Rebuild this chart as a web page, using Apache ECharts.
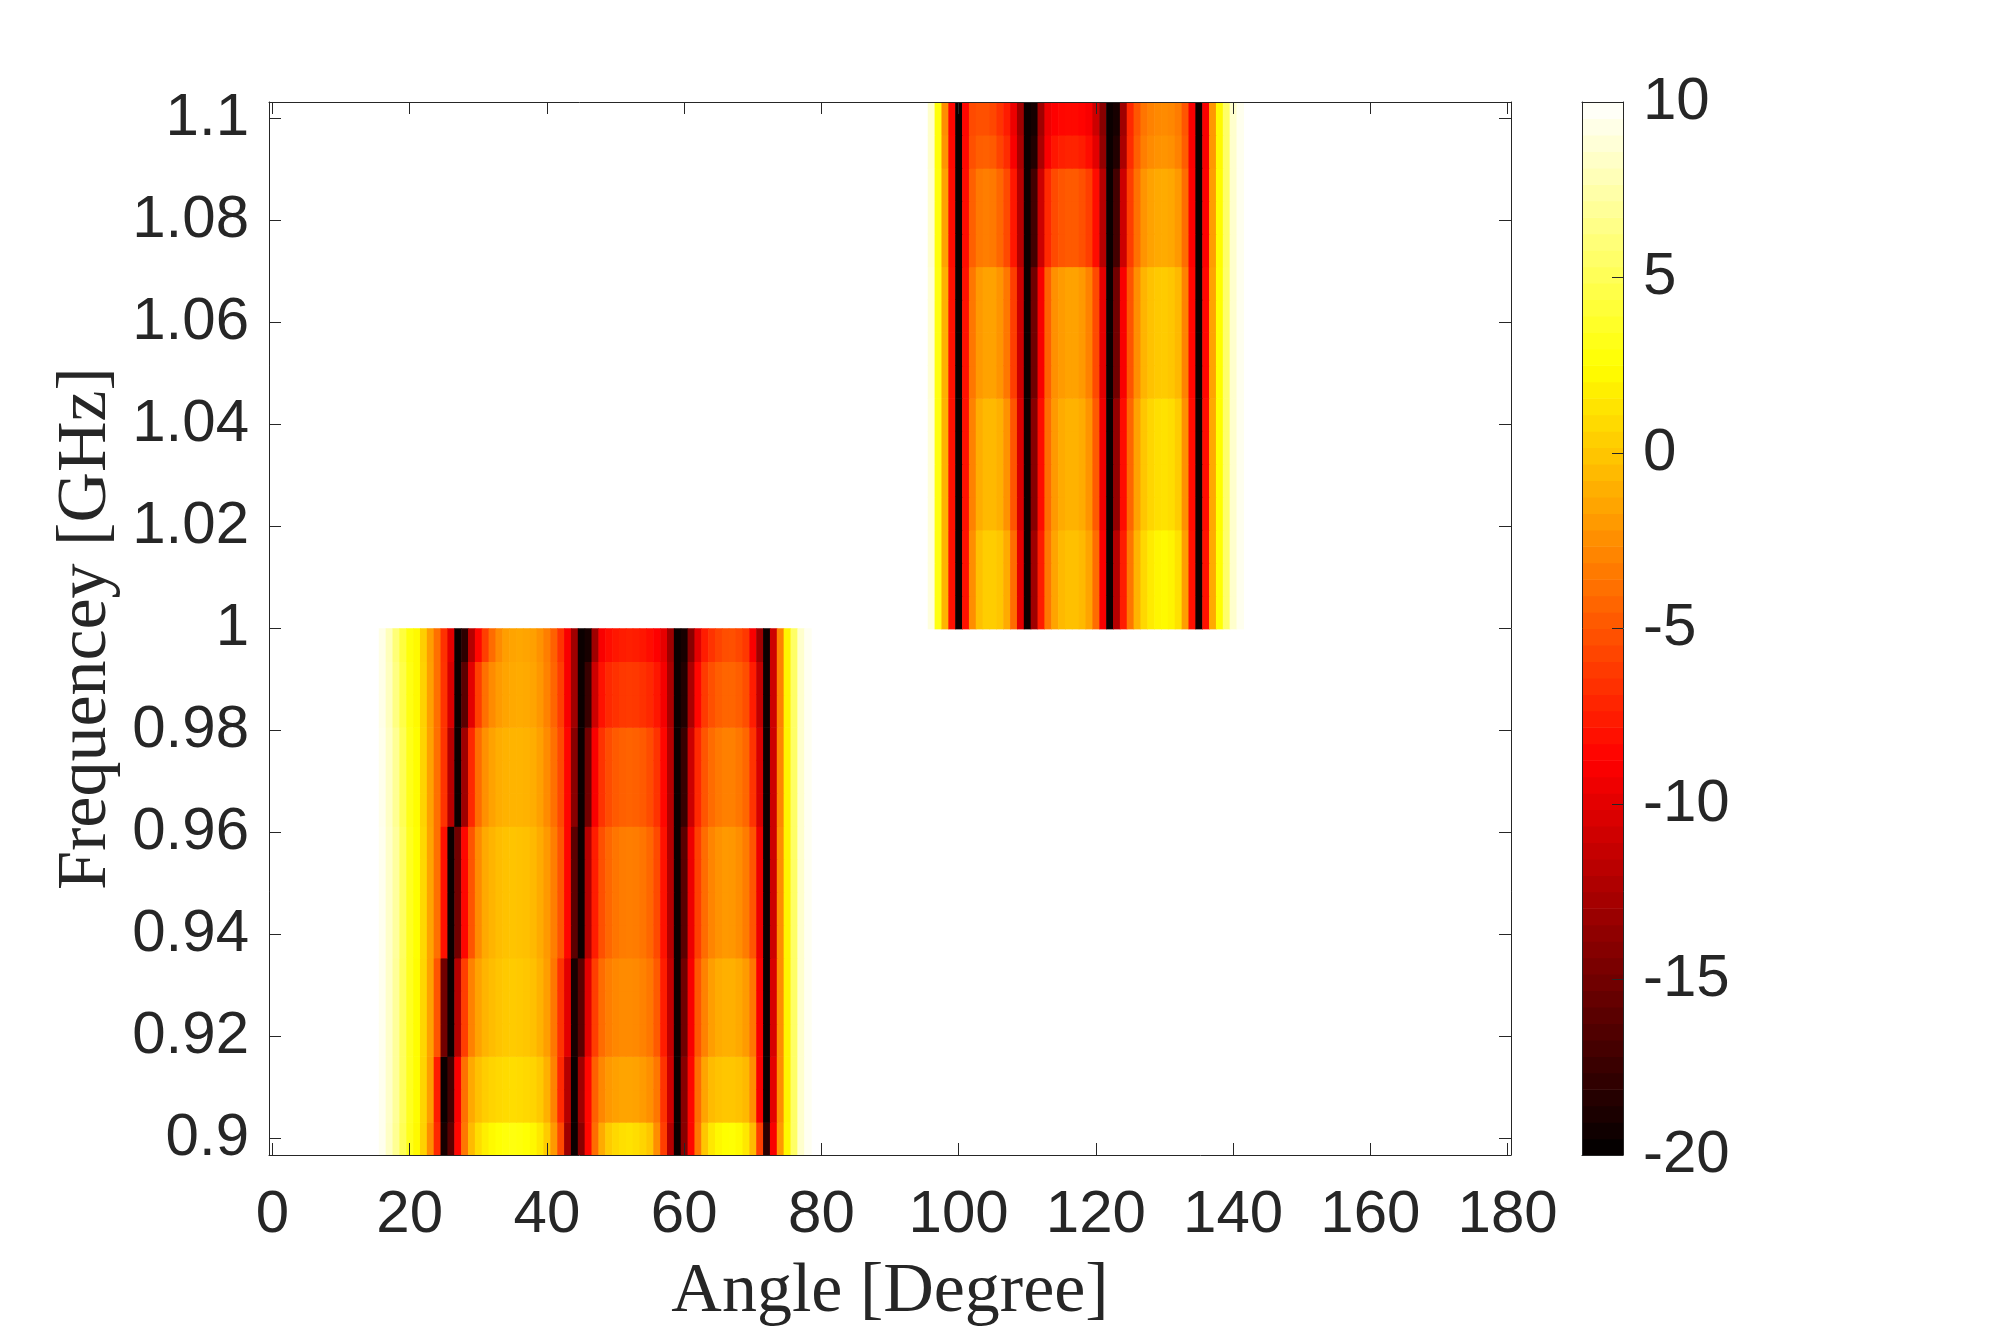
<!DOCTYPE html>
<html>
<head>
<meta charset="utf-8">
<script src="https://cdn.jsdelivr.net/npm/echarts@6/dist/echarts.min.js"></script>
<style>
  html, body { margin: 0; padding: 0; background: #fff; }
  #chart { width: 2000px; height: 1344px; }
</style>
</head>
<body>
<div id="chart"></div>
<script>
// frequency rows (GHz), 32 samples from 0.9 to 1.1
const freqs = [0.9000, 0.9065, 0.9129, 0.9194, 0.9258, 0.9323, 0.9387, 0.9452,
  0.9516, 0.9581, 0.9645, 0.9710, 0.9774, 0.9839, 0.9903, 0.9968,
  1.0032, 1.0097, 1.0161, 1.0226, 1.0290, 1.0355, 1.0419, 1.0484,
  1.0548, 1.0613, 1.0677, 1.0742, 1.0806, 1.0871, 1.0935, 1.1000];

const xTicks = [0, 20, 40, 60, 80, 100, 120, 140, 160, 180];
const yTicks = [0.9, 0.92, 0.94, 0.96, 0.98, 1, 1.02, 1.04, 1.06, 1.08, 1.1];
const cbMin = -20;
const cbMax = 10;

// lower block: angles 16..78, rows 0..15 (0.9 .. 0.9968 GHz)
const lowAngles = [16, 17, 18, 19, 20, 21, 22, 23, 24, 25, 26, 27, 28, 29, 30, 31, 32, 33, 34, 35,
  36, 37, 38, 39, 40, 41, 42, 43, 44, 45, 46, 47, 48, 49, 50, 51, 52, 53, 54, 55,
  56, 57, 58, 59, 60, 61, 62, 63, 64, 65, 66, 67, 68, 69, 70, 71, 72, 73, 74, 75,
  76, 77, 78];
const lowRowProfile = [0, 1, 1, 2, 2, 2, 3, 3, 3, 3, 4, 4, 4, 5, 5, 6];
const lowProfiles = [
  [9.5, 8.3, 6.8, 5.0, 3.3, 2.3, 0.5, -2.5, -7, -19,
   -16, -8.5, -3.5, -0.5, 1.0, 1.8, 2.3, 2.6, 2.8, 2.9,
   2.8, 2.6, 2.2, 1.5, 0.2, -2.0, -5.5, -13, -19.5, -14,
   -8.5, -4, -1.2, 0.2, 0.8, 1.1, 1.2, 1.0, 0.6, 0,
   -2.5, -6, -12, -19.5, -14, -8.5, -3.5, 0, 1.5, 2.2,
   2.5, 2.6, 2.3, 1.5, -0.5, -6, -18, -9, -2, 2.2,
   5.5, 8.5, 9.6],
  [9.5, 8.4, 7.0, 5.2, 3.4, 2.4, 0.6, -1.8, -7.5, -19.5,
   -17, -9, -3.8, -1.3, -0.3, 0.3, 0.6, 0.8, 0.9, 1.0,
   0.9, 0.8, 0.6, 0.1, -1.0, -3.0, -7, -12, -19.5, -13,
   -8.5, -4.5, -2.8, -2.0, -1.7, -1.5, -1.5, -1.6, -1.9, -2.4,
   -3.5, -6.5, -11, -19.5, -14, -8.5, -4, -1.5, -0.5, -0.2,
   0, 0, -0.2, -0.6, -2.5, -9, -19.5, -10, -2.5, 2.0,
   5.5, 8.5, 9.6],
  [9.5, 8.4, 7.0, 5.2, 3.4, 2.4, 0.7, -1.6, -5, -15,
   -19.5, -12, -6, -3, -1.6, -0.8, -0.4, -0.1, 0.1, 0.2,
   0.1, 0, -0.3, -0.9, -1.8, -3.5, -6.5, -10, -19, -16,
   -10, -6, -4, -3.2, -2.8, -2.6, -2.6, -2.7, -3.0, -3.5,
   -4.8, -7.5, -11.5, -19.5, -15, -9, -5, -3, -1.8, -1.2,
   -1.0, -1.0, -1.3, -1.9, -3.5, -9, -19.5, -10.5, -2.5, 2.0,
   5.5, 8.5, 9.6],
  [9.5, 8.4, 7.1, 5.3, 3.4, 2.5, 0.8, -1.5, -3.8, -8,
   -19.5, -15, -8.5, -5, -2.6, -1.3, -0.8, -0.4, -0.2, -0.1,
   -0.2, -0.3, -0.6, -1.2, -2.0, -3.2, -5, -8.5, -16, -19.5,
   -12, -7.5, -5.2, -4.2, -3.6, -3.3, -3.2, -3.3, -3.6, -4.2,
   -5.5, -8, -12, -19.5, -16, -9.5, -6, -4, -2.9, -2.3,
   -2.0, -2.1, -2.5, -3.3, -5, -9.5, -19.5, -11, -2.5, 2.0,
   5.5, 8.5, 9.6],
  [9.4, 8.3, 6.8, 5.0, 3.2, 2.4, 0.6, -1.6, -3.8, -6.5,
   -12, -19.5, -13, -7, -4, -2.4, -1.6, -1.1, -0.9, -0.8,
   -0.8, -0.9, -1.1, -1.7, -2.6, -3.8, -5.5, -8.5, -14, -19.5,
   -15, -9, -6.5, -5.4, -4.8, -4.5, -4.4, -4.5, -4.8, -5.4,
   -6.5, -8.5, -12, -19.5, -17.5, -11, -7, -5, -4.0, -3.4,
   -3.1, -3.1, -3.5, -4.2, -6.5, -10.5, -19.5, -11, -2.8, 2.0,
   5.5, 8.5, 9.6],
  [9.3, 8.1, 6.3, 4.6, 3.0, 2.3, 0.5, -1.7, -3.8, -6.5,
   -10.5, -19.5, -16, -10, -6, -3.8, -2.6, -1.9, -1.5, -1.3,
   -1.2, -1.3, -1.5, -2.1, -3.0, -4.3, -6, -9, -13, -19.5,
   -17.5, -11, -8, -7, -6.6, -6.3, -6.2, -6.3, -6.6, -7.0,
   -7.8, -9.2, -12.5, -19.5, -18.5, -12.5, -8.5, -6.2, -5.2, -4.6,
   -4.3, -4.3, -4.6, -5.3, -7.5, -11.5, -19.5, -11, -3, 2.0,
   5.5, 8.5, 9.6],
  [9.3, 8.0, 6.0, 4.3, 2.8, 2.3, 0.4, -1.8, -3.8, -6.6,
   -10, -19.5, -18, -12, -8.5, -6, -4, -2.6, -1.8, -1.5,
   -1.4, -1.5, -1.7, -2.3, -3.2, -4.5, -6.5, -9, -13, -19.5,
   -19, -13, -9, -8.2, -7.8, -7.5, -7.4, -7.5, -7.8, -8.2,
   -8.8, -9.8, -13, -19.5, -19, -14, -10, -7.5, -6.5, -5.8,
   -5.3, -5.2, -5.6, -6.3, -9, -13, -19.5, -11, -3, 2.0,
   5.5, 8.5, 9.6]
];

// upper block: angles 96..141, rows 16..31 (1.0032 .. 1.1 GHz)
const highAngles = [96, 97, 98, 99, 100, 101, 102, 103, 104, 105,
  106, 107, 108, 109, 110, 111, 112, 113, 114, 115,
  116, 117, 118, 119, 120, 121, 122, 123, 124, 125,
  126, 127, 128, 129, 130, 131, 132, 133, 134, 135,
  136, 137, 138, 139, 140, 141];
const highRowProfile = [0, 0, 0, 1, 1, 1, 1, 2, 2, 2, 2, 3, 3, 3, 4, 5];
const highProfiles = [
  [9.0, 3.0, -0.8, -8, -19.5, -8, -2.5, -0.3, 0.3, 0.3,
   0, -1.2, -4, -10, -19.5, -13, -7.5, -3.5, -1.5, -0.6,
   -0.3, -0.3, -0.6, -1.5, -4, -9, -19.5, -12, -7.5, -3.5,
   -0.8, 0.8, 1.6, 2.1, 2.3, 2.0, 1.2, -1.8, -8, -19.5,
   -8, -1.2, 2.6, 5.6, 8.5, 9.5],
  [8.9, 3.0, -0.9, -8, -19.5, -8, -3.0, -1.1, -0.6, -0.6,
   -1.0, -2.3, -5, -10.5, -19.5, -14, -8.2, -4, -2.0, -1.2,
   -0.9, -0.9, -1.2, -2.2, -4.8, -9.5, -19.5, -13.5, -8.2, -4.2,
   -1.6, 0, 0.7, 1.1, 1.2, 1.0, 0.3, -2.4, -8.2, -19.5,
   -8.2, -1.3, 2.5, 5.6, 8.5, 9.5],
  [8.8, 3.0, -1.0, -8, -19.5, -8, -3.5, -2.0, -1.6, -1.6,
   -2.2, -3.5, -6, -11, -19.5, -15, -9, -4.5, -2.4, -1.9,
   -1.6, -1.6, -2.0, -3.0, -5.5, -10, -19.5, -15, -9, -5,
   -2.5, -0.8, -0.2, 0.1, 0.2, 0, -0.6, -3, -8.5, -19.5,
   -8.5, -1.5, 2.5, 5.6, 8.5, 9.5],
  [8.6, 2.9, -1.6, -8.2, -19.5, -8.2, -4.5, -3.4, -3.2, -3.4,
   -4.2, -5.5, -7.8, -12, -19.5, -17, -11, -7, -5.5, -5.0,
   -4.8, -4.8, -5.2, -6.0, -8.2, -12, -19.5, -17, -11, -6,
   -3.8, -2.2, -1.6, -1.3, -1.2, -1.4, -2.0, -4, -8.8, -19.5,
   -8.8, -1.8, 2.4, 5.5, 8.5, 9.5],
  [8.5, 2.8, -2.2, -8.4, -19.5, -8.4, -5.2, -4.6, -4.5, -4.8,
   -5.8, -6.8, -9, -12.5, -19.5, -18.5, -12.5, -9, -7.8, -7.4,
   -7.2, -7.2, -7.5, -8.2, -10, -13.5, -19.5, -18.5, -12.5, -6.8,
   -4.6, -3.2, -2.6, -2.3, -2.2, -2.4, -3.0, -4.7, -9, -19.5,
   -9, -2, 2.3, 5.5, 8.5, 9.5],
  [8.5, 2.8, -2.5, -8.5, -19.5, -8.5, -5.5, -5.2, -5.2, -5.6,
   -6.5, -7.5, -9.5, -13, -19.5, -19, -13, -9.5, -8.8, -8.5,
   -8.4, -8.4, -8.6, -9.0, -11, -14, -19.5, -19, -13, -7,
   -5, -3.6, -3.0, -2.7, -2.6, -2.8, -3.3, -5, -9, -19.5,
   -9, -2, 2.3, 5.5, 8.5, 9.5]
];

// MATLAB "hot" anchor colours, evenly spaced from cbMin to cbMax
const hotColors = ['#000000', '#550000', '#aa0000', '#ff0000', '#ff5500',
  '#ffaa00', '#ffff00', '#ffff80', '#ffffff'];

const axisColor = '#262626';
const tickFont = 'Liberation Sans';
const nameFont = 'Liberation Serif';

const chart = echarts.init(document.getElementById('chart'));

// build cells [angle, freq, value]
const cells = [];
function addBlock(angles, rowStart, rowProfile, profiles) {
  for (let r = 0; r < rowProfile.length; r++) {
    const vals = profiles[rowProfile[r]];
    for (let j = 0; j < angles.length; j++) {
      cells.push([angles[j], freqs[rowStart + r], vals[j]]);
    }
  }
}
addBlock(lowAngles, 0, lowRowProfile, lowProfiles);
addBlock(highAngles, 16, highRowProfile, highProfiles);

const halfRow = (freqs[1] - freqs[0]) / 2;

// colour bar steps, like hot(64)
const cbSteps = [];
for (let i = 0; i < 64; i++) {
  const lo = cbMin + (cbMax - cbMin) * i / 64;
  const hi = cbMin + (cbMax - cbMin) * (i + 1) / 64;
  cbSteps.push([0.5, lo, (lo + hi) / 2, hi]);
}

function drawCell(params, api) {
  const a = api.value(0);
  const f = api.value(1);
  const tl = api.coord([a - 0.5, f + halfRow]);
  const br = api.coord([a + 0.5, f - halfRow]);
  return {
    type: 'rect',
    shape: { x: tl[0], y: tl[1], width: br[0] - tl[0] + 0.6, height: br[1] - tl[1] + 0.6 },
    style: { fill: api.visual('color') }
  };
}

function drawStep(params, api) {
  const tl = api.coord([0, api.value(3)]);
  const br = api.coord([1, api.value(1)]);
  return {
    type: 'rect',
    shape: { x: tl[0], y: tl[1], width: br[0] - tl[0], height: br[1] - tl[1] + 0.6 },
    style: { fill: api.visual('color') }
  };
}

const lineStyle = { color: axisColor, width: 1 };
const boxLine = { show: true, onZero: false, lineStyle: lineStyle };
const labelStyle = { color: axisColor, fontSize: 60, fontFamily: tickFont };
const inTick = { show: true, inside: true, length: 12, lineStyle: lineStyle };

const option = {
  backgroundColor: '#ffffff',
  animation: false,
  grid: [
    { left: 269, top: 102, width: 1242, height: 1053 },
    { left: 1582, top: 102, width: 41, height: 1053 }
  ],
  xAxis: [
    {
      gridIndex: 0, type: 'value', min: -0.5, max: 180.5, position: 'bottom', z: 5,
      name: 'Angle [Degree]', nameLocation: 'middle', nameGap: 103,
      nameTextStyle: { color: axisColor, fontSize: 70, fontFamily: nameFont },
      axisLine: boxLine,
      axisTick: Object.assign({ customValues: xTicks }, inTick),
      axisLabel: Object.assign({ margin: 30, customValues: xTicks }, labelStyle),
      splitLine: { show: false }
    },
    {
      gridIndex: 0, type: 'value', min: -0.5, max: 180.5, position: 'top', z: 5,
      axisLine: boxLine,
      axisTick: Object.assign({ customValues: xTicks }, inTick),
      axisLabel: { show: false },
      splitLine: { show: false }
    },
    {
      gridIndex: 1, type: 'value', min: 0, max: 1, position: 'bottom', z: 5,
      axisLine: boxLine,
      axisTick: { show: false }, axisLabel: { show: false }, splitLine: { show: false }
    },
    {
      gridIndex: 1, type: 'value', min: 0, max: 1, position: 'top', z: 5,
      axisLine: boxLine,
      axisTick: { show: false }, axisLabel: { show: false }, splitLine: { show: false }
    }
  ],
  yAxis: [
    {
      gridIndex: 0, type: 'value', min: 0.8968, max: 1.1032, position: 'left', z: 5,
      name: 'Frequencey [GHz]', nameLocation: 'middle', nameGap: 129,
      nameTextStyle: { color: axisColor, fontSize: 70, fontFamily: nameFont },
      axisLine: boxLine,
      axisTick: Object.assign({ customValues: yTicks }, inTick),
      axisLabel: Object.assign({
        margin: 20, customValues: yTicks,
        formatter: v => String(+Number(v).toFixed(2))
      }, labelStyle),
      splitLine: { show: false }
    },
    {
      gridIndex: 0, type: 'value', min: 0.8968, max: 1.1032, position: 'right', z: 5,
      axisLine: boxLine,
      axisTick: Object.assign({ customValues: yTicks }, inTick),
      axisLabel: { show: false },
      splitLine: { show: false }
    },
    {
      gridIndex: 1, type: 'value', min: cbMin, max: cbMax, position: 'left', z: 5,
      axisLine: boxLine,
      axisTick: { show: false }, axisLabel: { show: false }, splitLine: { show: false }
    },
    {
      gridIndex: 1, type: 'value', min: cbMin, max: cbMax, interval: 5, position: 'right', z: 5,
      axisLine: boxLine,
      axisTick: { show: true, inside: true, length: 11, lineStyle: lineStyle },
      axisLabel: Object.assign({ margin: 20 }, labelStyle),
      splitLine: { show: false }
    }
  ],
  visualMap: {
    show: false, type: 'continuous', min: cbMin, max: cbMax,
    dimension: 2, seriesIndex: [0, 1],
    inRange: { color: hotColors }
  },
  series: [
    {
      type: 'custom', xAxisIndex: 0, yAxisIndex: 0,
      renderItem: drawCell, data: cells, clip: true, silent: true, z: 1
    },
    {
      type: 'custom', xAxisIndex: 2, yAxisIndex: 3,
      renderItem: drawStep, data: cbSteps, silent: true, z: 1
    }
  ]
};

chart.setOption(option);
</script>
</body>
</html>
